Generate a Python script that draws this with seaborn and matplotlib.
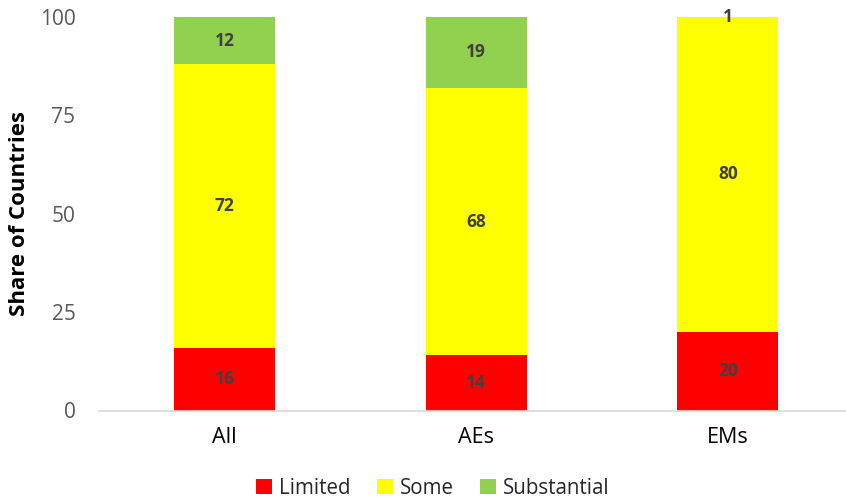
import matplotlib
matplotlib.use("Agg")
import matplotlib.pyplot as plt
import seaborn as sns
import numpy as np
from matplotlib.patches import Patch

categories = ["All", "AEs", "EMs"]
limited = [16, 14, 20]
some = [72, 68, 80]
substantial = [12, 19, 1]
series_names = ["Limited", "Some", "Substantial"]
colors = ["#FF0000", "#FFFF00", "#92D050"]
yticks = [0, 25, 50, 75, 100]

sns.set_theme(style="white")
plt.rcParams["font.family"] = ["Open Sans", "DejaVu Sans"]

fig = plt.figure(figsize=(8.46, 5.04), dpi=100)
ax = fig.add_axes([99 / 846, 1 - 410.5 / 504, 1 - 99 / 846, (410.5 - 17) / 504])

bottom = np.zeros(len(categories))
for name, vals, col in zip(series_names, [limited, some, substantial], colors):
    sns.barplot(x=categories, y=vals, bottom=bottom, color=col, width=0.4,
                saturation=1, ax=ax, linewidth=0, zorder=2)
    cont = ax.containers[-1]
    ax.bar_label(cont, labels=[f"{v:g}" for v in vals], label_type="center",
                 fontsize=12.5, fontweight="bold", color="#404040")
    bottom = bottom + np.array(vals)

ax.set_xlim(-0.5, -0.5 + (846 - 99) / 251.5)
ax.set_ylim(0, 100)
ax.set_yticks(yticks)
ax.set_yticklabels([str(t) for t in yticks])
ax.tick_params(axis="y", labelsize=15, labelcolor="#595959", length=0, pad=17)
ax.tick_params(axis="x", labelsize=15.5, labelcolor="#000000", length=0, pad=12)
ax.set_ylabel("Share of Countries", fontsize=16, fontweight="bold", color="#000000")
ax.yaxis.set_label_coords(-69 / 747, 0.5)

for side in ["top", "right", "left"]:
    ax.spines[side].set_visible(False)
ax.spines["bottom"].set_color("#D9D9D9")
ax.spines["bottom"].set_linewidth(1.2)

handles = [Patch(facecolor=c, edgecolor="none", label=n) for n, c in zip(series_names, colors)]
fig.legend(handles=handles, loc="center", bbox_to_anchor=(433 / 846, 1 - 488 / 504),
           ncol=3, frameon=False, fontsize=14.8, handlelength=0.75, handleheight=0.75,
           handletextpad=0.35, columnspacing=1.3, borderpad=0)

fig.savefig("out.png", dpi=100)
